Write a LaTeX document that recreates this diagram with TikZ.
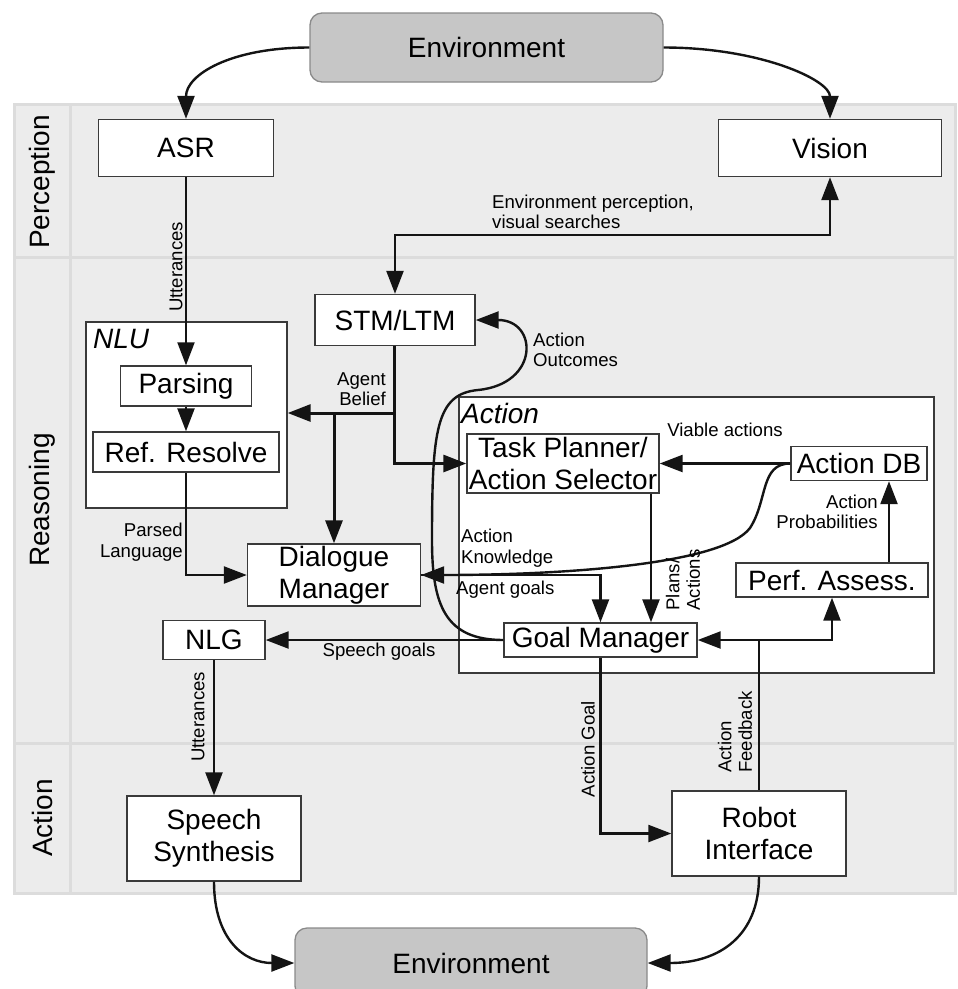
\documentclass[tikz,border=0pt]{standalone}
\usepackage{fontspec}
\setmainfont{Liberation Sans}
\usetikzlibrary{arrows.meta}
\definecolor{panelfill}{HTML}{ECECEC}
\definecolor{panelline}{HTML}{DCDCDC}
\definecolor{boxline}{HTML}{3A3A3A}
\definecolor{envfill}{HTML}{C6C6C6}
\definecolor{envline}{HTML}{8A8A8A}
\newcommand\bigfnt{\fontsize{28}{32}\selectfont}
\newcommand\smfnt{\fontsize{18.6}{20.5}\selectfont}
\tikzset{
  box/.style={draw=boxline, fill=white, line width=1.4pt, inner sep=0pt, font=\bigfnt, align=center},
  cont/.style={draw=boxline, fill=white, line width=1.4pt, inner sep=0pt},
  env/.style={draw=envline, fill=envfill, line width=1.3pt, rounded corners=12pt, inner sep=0pt, font=\bigfnt},
  lbl/.style={font=\smfnt, inner sep=0pt},
  band/.style={font=\bigfnt, inner sep=0pt, rotate=90},
  conn/.style={line width=2.4pt, draw=black!92},
  thk/.style={line width=3pt},
  arr/.style={conn, -{Triangle[length=23pt,width=17pt]}},
  darr/.style={conn, {Triangle[length=23pt,width=17pt]}-{Triangle[length=23pt,width=17pt]}},
}
\begin{document}
\begin{tikzpicture}[x=1pt,y=-1pt]
\useasboundingbox (0,0) rectangle (958,989);
% background panel
\fill[panelfill] (14,104) rectangle (955,893);
\draw[panelline, line width=3pt] (14,104) rectangle (955,893);
\draw[panelline, line width=3pt] (70,104) -- (70,893);
\draw[panelline, line width=3pt] (14,257) -- (955,257);
\draw[panelline, line width=3pt] (14,743) -- (955,743);
\node[band] (bperc) at (42,182) {Perception};
\node[band] (breas) at (42,500) {Reasoning};
\node[band] (bact) at (42,818) {Action};
% environment
\node[env, minimum width=353pt, minimum height=69pt] (envtop) at (486.5,47.5) {Environment};
\node[env, minimum width=352pt, minimum height=70pt] (envbot) at (471,963) {Environment};
% containers
\node[cont, minimum width=201pt, minimum height=186pt] (nlu) at (186.5,415) {};
\node[font=\bigfnt\itshape, inner sep=0pt, anchor=west] (nlulbl) at (93,339) {NLU};
\node[cont, minimum width=475pt, minimum height=276pt] (actbox) at (696.5,535) {};
\node[font=\bigfnt\itshape, inner sep=0pt, anchor=west] (actlbl) at (461,413) {Action};
% nodes
\node[box, minimum width=175pt, minimum height=57pt] (asr) at (186,148) {ASR};
\node[box, minimum width=223pt, minimum height=57pt] (vision) at (830,148) {Vision};
\node[box, minimum width=160pt, minimum height=51pt] (stm) at (395,320) {STM/LTM};
\node[box, minimum width=131pt, minimum height=40pt] (parse) at (186,386) {Parsing};
\node[box, minimum width=186pt, minimum height=40pt] (ref) at (186,452) {Ref. Resolve};
\node[box, minimum width=173pt, minimum height=62pt] (dm) at (334,575) {Dialogue\\Manager};
\node[box, minimum width=192pt, minimum height=59pt] (tp) at (563,463.5) {Task Planner/\\Action Selector};
\node[box, minimum width=136pt, minimum height=34pt] (adb) at (859,463.5) {Action DB};
\node[box, minimum width=192pt, minimum height=34pt] (pa) at (832,580) {Perf. Assess.};
\node[box, minimum width=193pt, minimum height=34pt] (gm) at (600.5,640) {Goal Manager};
\node[box, minimum width=102pt, minimum height=39pt] (nlg) at (214,640) {NLG};
\node[box, minimum width=174pt, minimum height=85pt] (ss) at (214,838.5) {Speech\\Synthesis};
\node[box, minimum width=174pt, minimum height=85pt] (ri) at (759,833.5) {Robot\\Interface};
% helper coordinates
\coordinate (epy) at (0,235);
\coordinate (abr) at (394,413);
\coordinate (abl) at (334,413);
\coordinate (pax) at (651,0);
\coordinate (pbx) at (889,0);
% environment connectors
\draw[arr] (envtop.west) .. controls (230,47.5) and (186,75) .. (asr.north);
\draw[arr] (envtop.east) .. controls (760,47.5) and (830,80) .. (vision.north);
\draw[arr] (ss.south) .. controls (214,940) and (245,963) .. (envbot.west);
\draw[arr] (ri.south) .. controls (759,935) and (720,963) .. (envbot.east);
% perception
\draw[arr, line width=2pt] (asr.south) -- (parse.north);
\node[lbl, rotate=90] (lutt1) at (176,267) {Utterances};
\draw[darr] (stm.north) -- (stm.north |- epy) -- (vision.south |- epy) -- (vision.south);
\node[lbl, anchor=west, align=left] (lenv) at (492,212) {Environment perception,\\visual searches};
% NLU
\draw[arr] (parse.south) -- (ref.north);
\draw[arr] (ref.south) -- (ref.south |- dm.west) -- (dm.west);
\node[lbl, anchor=east, align=right] (lparsed) at (183,542) {Parsed\\Language};
% agent belief
\draw[arr, thk] (stm.south -| abr) -- (abr) -- (abr -| nlu.east);
\draw[arr, thk] (abl) -- (abl |- dm.north);
\draw[arr, thk] (abr) -- (abr |- tp.west) -- (tp.west);
\node[lbl, anchor=east, align=right] (lbelief) at (386,389) {Agent\\Belief};
% action outcomes
\draw[arr] (gm.west) .. controls (445,640) and (432,605) .. (432,540)
  .. controls (432,430) and (436,394) .. (478,390)
  .. controls (540,384) and (538,320) .. (stm.east);
\node[lbl, anchor=west, align=left] (lout) at (533,350) {Action\\Outcomes};
% speech
\draw[arr] (gm.west) -- (nlg.east);
\node[lbl] (lspeech) at (379,652) {Speech goals};
\draw[arr] (nlg.south) -- (ss.north);
\node[lbl, rotate=90] (lutt2) at (198,717) {Utterances};
% action box internals
\draw[arr] (adb.west) -- (tp.east);
\node[lbl] (lviable) at (725,430) {Viable actions};
\draw[arr] (adb.west) .. controls (760,463.5) and (768,500) .. (750,528)
  .. controls (722,565) and (560,575) .. (dm.east);
\node[lbl, anchor=west, align=left] (lknow) at (461,548) {Action\\Knowledge};
\draw[arr] (dm.east) -- (gm.north |- dm.east) -- (gm.north);
\node[lbl, anchor=west] (lagoals) at (456,590) {Agent goals};
\draw[arr] (tp.south -| pax) -- (gm.north -| pax);
\node[lbl, rotate=90, align=left] (lplans) at (683,580) {Plans/\\Actions};
\draw[arr] (pa.north -| pbx) -- (adb.south -| pbx);
\node[lbl, anchor=east, align=right] (lprob) at (878,512) {Action\\Probabilities};
% robot
\draw[arr] (gm.south) -- (gm.south |- ri.west) -- (ri.west);
\node[lbl, rotate=90] (lagoal) at (588,749) {Action Goal};
\draw[arr] (ri.north) -- (ri.north |- gm.east) -- (gm.east);
\draw[arr] (ri.north |- gm.east) -- (pa.south |- gm.east) -- (pa.south);
\node[lbl, rotate=90, align=left] (lfeed) at (735,732) {Action\\Feedback};
\end{tikzpicture}
\end{document}
